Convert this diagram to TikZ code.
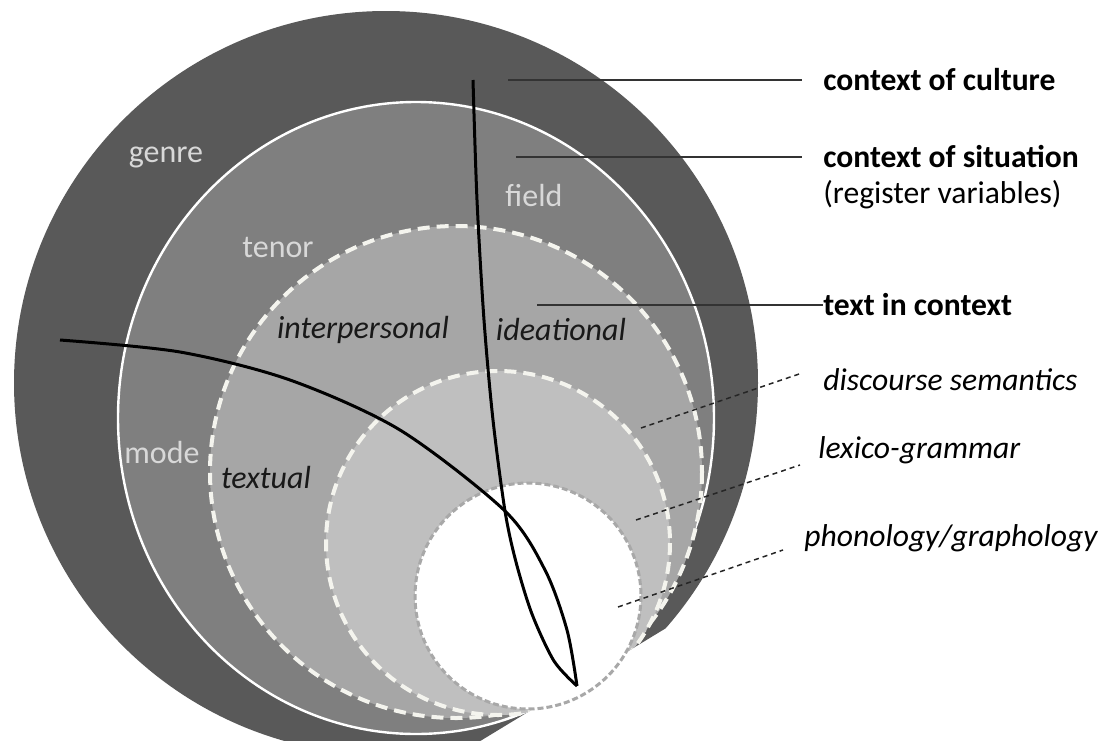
\documentclass[tikz,border=0pt]{standalone}
\usepackage{fontspec}
\setmainfont{Carlito}
\usepackage{tikz}
\usetikzlibrary{calc}

\definecolor{cultgrey}{HTML}{595959}
\definecolor{sitgrey}{HTML}{7F7F7F}
\definecolor{semgrey}{HTML}{A6A6A6}
\definecolor{lexgrey}{HTML}{BFBFBF}
\definecolor{phongrey}{HTML}{A8A8A8}
\definecolor{labgrey}{HTML}{D8D8D8}
\definecolor{dashwhite}{HTML}{F4F4EE}

\tikzset{
	ringtext/.style={text=labgrey, inner sep=0pt, font=\fontsize{16}{19}\selectfont},
	metatext/.style={text=black!90, inner sep=0pt, font=\fontsize{16}{19}\selectfont\itshape},
	sidetext/.style={anchor=west, inner sep=0pt, font=\fontsize{15.8}{19}\selectfont},
	sidebold/.style={sidetext, font=\fontsize{15.8}{19}\selectfont\bfseries},
	sideital/.style={sidetext, font=\fontsize{15.8}{19}\selectfont\itshape},
	stratum/.style={draw=dashwhite, line width=2pt, dash pattern=on 6pt off 3.5pt},
	leader/.style={draw=black!80, line width=0.8pt},
	dashleader/.style={draw=black!85, line width=0.75pt, dash pattern=on 2.5pt off 2pt},
	metacurve/.style={draw=black, line width=1.5pt},
}

\begin{document}
\begin{tikzpicture}[x=0.5pt, y=-0.5pt]
		%%%%% START %%%%%
		\useasboundingbox (0,0) rectangle (1099,740);
		\clip (0,0) rectangle (1099,740);
		
		\begin{scope}
			% everything meets the phonology circle on the lower right
			\clip (0,0) -- (1099,0) -- (1099,365) -- (449,760) -- (0,760) -- cycle;
			
			% context of culture
			\fill[cultgrey] (386,383) circle (372);
			
			% context of situation
			\filldraw[fill=sitgrey, draw=white, line width=1.2pt] (416,418) ellipse (298 and 316);
			
			% discourse semantics and lexico-grammar
			\filldraw[fill=semgrey, stratum] (456,472) circle (246);
			\filldraw[fill=lexgrey, stratum] (498,543) circle (172);
		\end{scope}
		
		% phonology/graphology
		\filldraw[fill=white, draw=phongrey, line width=1.5pt, dash pattern=on 3pt off 1.5pt] (528,596) circle (113);
		
		% metafunction lines
		\draw[metacurve] plot[smooth] coordinates {(473,80) (477,200) (484,320) (493,420) (505,511) (516,562) (532,614) (554,661) (577,686)};
		\draw[metacurve] plot[smooth] coordinates {(60,340) (180,352) (290,380) (400,430) (505,511) (545,570) (567,630) (577,686)};
		
		% labels in the rings
		\node[ringtext] (genre) at (166,157) {genre};
		\node[ringtext] (tenor) at (278,247) {tenor};
		\node[ringtext] (field) at (534,195) {field};
		\node[ringtext] (mode) at (162,452) {mode};
		\node[metatext] (interpersonal) at (363,330) {interpersonal};
		\node[metatext] (ideational) at (561,330) {ideational};
		\node[metatext] (textual) at (266,477) {textual};
		
		% labels on the right
		\node[sidebold] (culture) at (823,80) {context of culture};
		\node[sidebold] (situation) at (823,157) {context of situation};
		\node[sidetext] (register) at (823,195) {(register variables)};
		\node[sidebold] (textctx) at (823,305) {text in context};
		\node[sideital] (dsem) at (823,380) {discourse semantics};
		\node[sideital] (lexgram) at (818,450) {lexico-grammar};
		\node[sideital] (phongraph) at (804,538) {phonology/graphology};
		
		\coordinate (culturept) at (508,80);
		\coordinate (situationpt) at (516,157);
		\coordinate (textctxpt) at (537,305);
		\coordinate (dsempt) at (641,428);
		\coordinate (lexgrampt) at (636,520);
		\coordinate (phongraphpt) at (618,607);
		
		\draw[leader, shorten >=10.5pt] (culturept) -- (culture.west);
		\draw[leader, shorten >=10.5pt] (situationpt) -- (situation.west);
		\draw[leader] (textctxpt) -- (textctx.west);
		\draw[dashleader] (dsempt) -- ([shift={(-21,-7)}]dsem.west);
		\draw[dashleader] (lexgrampt) -- ([shift={(-18,15)}]lexgram.west);
		\draw[dashleader] (phongraphpt) -- ([shift={(-21,12)}]phongraph.west);
		
		%%%%% END %%%%%
\end{tikzpicture}
\end{document}
